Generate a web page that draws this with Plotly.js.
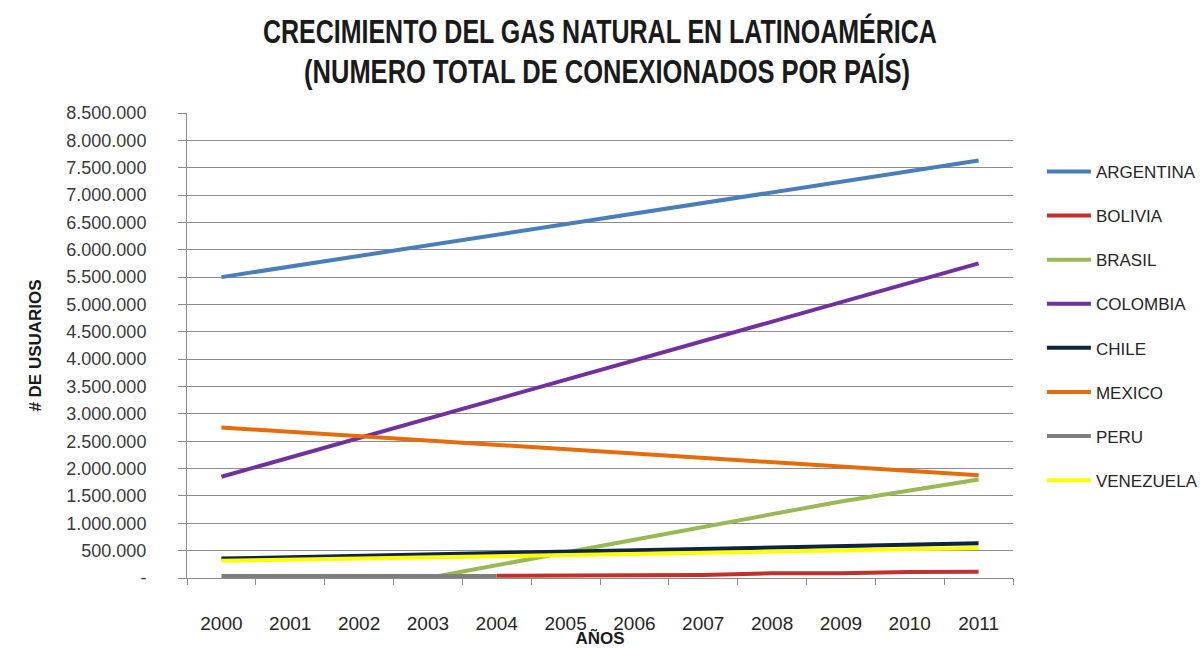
<!DOCTYPE html>
<html>
<head>
<meta charset="utf-8">
<script src="https://cdn.plot.ly/plotly-3.0.1.min.js"></script>
<style>html,body{margin:0;padding:0;background:#fff;}#chart{width:1200px;height:648px;}</style>
</head>
<body>
<div id="chart"></div>
<script>
const years = ["2000","2001","2002","2003","2004","2005","2006","2007","2008","2009","2010","2011"];
const argentina = [5500000,5695000,5890000,6085000,6280000,6475000,6670000,6865000,7060000,7255000,7450000,7630000];
const bolivia   = [null,null,null,null,40000,45000,48000,55000,85000,88000,110000,115000];
const brasil    = [null,null,null,0,234000,468000,700000,935000,1170000,1400000,1600000,1800000];
const colombia  = [1850000,2205000,2560000,2915000,3270000,3625000,3980000,4335000,4690000,5040000,5395000,5750000];
const chile     = [355000,381000,407000,433000,459000,485000,511000,537000,563000,589000,612000,633000];
const mexico    = [2750000,2670000,2590000,2510000,2430000,2350000,2270000,2190000,2110000,2030000,1950000,1880000];
const peru      = [35000,35000,35000,35000,35000,null,null,null,null,null,null,null];
const venezuela = [315000,336000,357000,378000,399000,420000,441000,462000,483000,504000,525000,547000];

const names  = ["ARGENTINA","BOLIVIA","BRASIL","COLOMBIA","CHILE","MEXICO","PERU","VENEZUELA"];
const series = [argentina,bolivia,brasil,colombia,chile,mexico,peru,venezuela];
const colors = ["#4a7ebb","#c0302c","#98b954","#7030a0","#0f243e","#e46c0a","#7f7f7f","#ffff00"];

const yTickVals = [0,500000,1000000,1500000,2000000,2500000,3000000,3500000,4000000,4500000,5000000,5500000,6000000,6500000,7000000,7500000,8000000,8500000];
const yTickText = ["-","500.000","1.000.000","1.500.000","2.000.000","2.500.000","3.000.000","3.500.000","4.000.000","4.500.000","5.000.000","5.500.000","6.000.000","6.500.000","7.000.000","7.500.000","8.000.000","8.500.000"];

const titleLines = ["CRECIMIENTO DEL GAS NATURAL EN LATINOAMÉRICA","(NUMERO TOTAL DE CONEXIONADOS POR PAÍS)"];

const font = "Liberation Sans, Arial, sans-serif";

const traces = names.map((n,i)=>({
  type:"scatter", mode:"lines", name:n, x:years, y:series[i],
  line:{color:colors[i], width:4}, legendgroup:n, connectgaps:false
}));

const layout = {
  width:1200, height:648,
  paper_bgcolor:"#fff", plot_bgcolor:"#fff",
  margin:{l:187, r:187, t:113, b:70, autoexpand:false},
  annotations:[
    {text:"<b>"+titleLines[0]+"</b>", xref:"paper", yref:"paper", x:0.5, y:1.176, xanchor:"center", yanchor:"middle",
     showarrow:false, font:{family:font, size:33, color:"#1a1a1a"}},
    {text:"<b>"+titleLines[1]+"</b>", xref:"paper", yref:"paper", x:0.509, y:1.09, xanchor:"center", yanchor:"middle",
     showarrow:false, font:{family:font, size:33, color:"#1a1a1a"}}
  ],
  showlegend:true,
  legend:{x:1.035, xanchor:"left", y:0.912, yanchor:"top", traceorder:"grouped", tracegroupgap:19,
          font:{family:font, size:17, color:"#262626"}, itemwidth:44, bgcolor:"rgba(0,0,0,0)"},
  xaxis:{type:"category", range:[-0.5,11.5], showgrid:false, showline:true, linecolor:"#8c8c8c", linewidth:1,
         ticks:"outside", tickson:"boundaries", ticklen:6, tickcolor:"#8c8c8c",
         ticklabelstandoff:28, tickfont:{family:font, size:19, color:"#262626"}, automargin:false,
         title:{text:"<b>AÑOS</b>", standoff:0, font:{family:font, size:17, color:"#1a1a1a"}}, fixedrange:true},
  yaxis:{range:[0,8500000], tickvals:yTickVals, ticktext:yTickText, showgrid:true, gridcolor:"#8c8c8c", gridwidth:1,
         showline:true, linecolor:"#8c8c8c", linewidth:1, ticks:"outside", ticklen:8, tickcolor:"#8c8c8c",
         ticklabelstandoff:28, tickfont:{family:font, size:18, color:"#3a3a3a"}, zeroline:false, automargin:false,
         title:{text:"<b># DE USUARIOS</b>", standoff:20, font:{family:font, size:17, color:"#1a1a1a"}}, fixedrange:true}
};

const titleWidths = [674, 606];
Plotly.newPlot("chart", traces, layout, {displayModeBar:false, staticPlot:true}).then(gd=>{
  const texts = gd.querySelectorAll("g.annotation text.annotation-text");
  texts.forEach((t,i)=>{
    if (i < titleWidths.length) {
      t.setAttribute("textLength", titleWidths[i]);
      t.setAttribute("lengthAdjust", "spacingAndGlyphs");
    }
  });
});
</script>
</body>
</html>
